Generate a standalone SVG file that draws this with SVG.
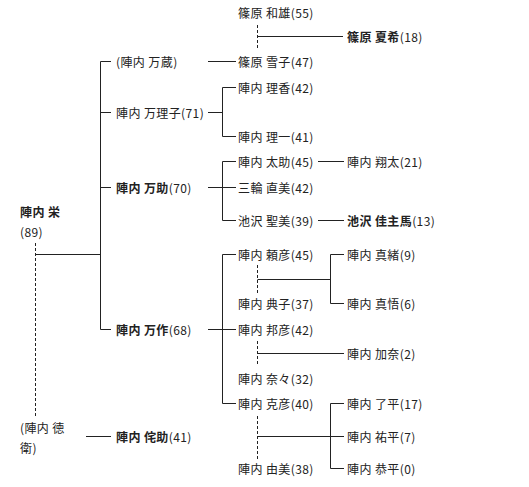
<svg xmlns="http://www.w3.org/2000/svg" width="529" height="487" viewBox="0 0 529 487">
<style>
text{font-family:"Noto Sans CJK JP","Noto Sans",sans-serif;font-size:12px;fill:#222;dominant-baseline:central;letter-spacing:0.4px}
.b{font-weight:bold}
.l{stroke:#222;stroke-width:1;fill:none}
.d{stroke:#222;stroke-width:1;fill:none;stroke-dasharray:3 2}
</style>
<rect width="529" height="487" fill="#fff"/>
<g id="connectors">
<path class="l" d="M100.5 61.5V329.5M100.5 61.5H111M100.5 112.5H111M100.5 187.5H111M100.5 329.5H111"/>
<path class="d" d="M35.5 243V418"/>
<path class="l" d="M35.5 254.5H100.5"/>
<path class="l" d="M86 436.5H111"/>
<path class="d" d="M257.5 25V50"/>
<path class="l" d="M257.5 36.5H343"/>
<path class="l" d="M208 61.5H236"/>
<path class="l" d="M208 112.5H222.5M222.5 87.5V136.5M222.5 87.5H236M222.5 136.5H236"/>
<path class="l" d="M208 187.5H236M222.5 161.5V220.5M222.5 161.5H236M222.5 220.5H236"/>
<path class="l" d="M318 161.5H344M318 220.5H344"/>
<path class="l" d="M208 329.5H236M222.5 254.5V403.5M222.5 254.5H236M222.5 403.5H236"/>
<path class="d" d="M257.5 265V293"/>
<path class="l" d="M257.5 279.5H330.5M330.5 254.5V303.5M330.5 254.5H344M330.5 303.5H344"/>
<path class="d" d="M257.5 341V366"/>
<path class="l" d="M257.5 353.5H344"/>
<path class="d" d="M257.5 416V459"/>
<path class="l" d="M257.5 436.5H344M330.5 403.5V468.5M330.5 403.5H344M330.5 468.5H344"/>
</g>
<g id="sakae"><text x="20" y="211"><tspan class="b">陣内 栄</tspan></text><text x="20" y="231">(89)</text></g>
<g id="tokue"><text x="20" y="427">(陣内 徳</text><text x="20" y="447">衛)</text></g>
<g id="manzo"><text x="116" y="61">(陣内 万蔵)</text></g>
<g id="mariko"><text x="116" y="112">陣内 万理子(71)</text></g>
<g id="mansuke"><text x="116" y="187"><tspan class="b">陣内 万助</tspan>(70)</text></g>
<g id="mansaku"><text x="116" y="329"><tspan class="b">陣内 万作</tspan>(68)</text></g>
<g id="wabisuke"><text x="116" y="436"><tspan class="b">陣内 侘助</tspan>(41)</text></g>
<g id="kazuo"><text x="238" y="12">篠原 和雄(55)</text></g>
<g id="yukiko"><text x="238" y="61">篠原 雪子(47)</text></g>
<g id="natsuki"><text x="347" y="36"><tspan class="b">篠原 夏希</tspan>(18)</text></g>
<g id="rika"><text x="238" y="87">陣内 理香(42)</text></g>
<g id="riichi"><text x="238" y="136">陣内 理一(41)</text></g>
<g id="tasuke"><text x="238" y="161">陣内 太助(45)</text></g>
<g id="shota"><text x="347" y="161">陣内 翔太(21)</text></g>
<g id="naomi"><text x="238" y="187">三輪 直美(42)</text></g>
<g id="kiyomi"><text x="238" y="220">池沢 聖美(39)</text></g>
<g id="kazuma"><text x="347" y="220"><tspan class="b">池沢 佳主馬</tspan>(13)</text></g>
<g id="yorihiko"><text x="238" y="254">陣内 頼彦(45)</text></g>
<g id="noriko"><text x="238" y="303">陣内 典子(37)</text></g>
<g id="mao"><text x="347" y="254">陣内 真緒(9)</text></g>
<g id="shingo"><text x="347" y="303">陣内 真悟(6)</text></g>
<g id="kunihiko"><text x="238" y="329">陣内 邦彦(42)</text></g>
<g id="nana"><text x="238" y="378">陣内 奈々(32)</text></g>
<g id="kana"><text x="347" y="353">陣内 加奈(2)</text></g>
<g id="katsuhiko"><text x="238" y="403">陣内 克彦(40)</text></g>
<g id="yumi"><text x="238" y="468">陣内 由美(38)</text></g>
<g id="ryohei"><text x="347" y="403">陣内 了平(17)</text></g>
<g id="yuhei"><text x="347" y="436">陣内 祐平(7)</text></g>
<g id="kyohei"><text x="347" y="468">陣内 恭平(0)</text></g>
</svg>
